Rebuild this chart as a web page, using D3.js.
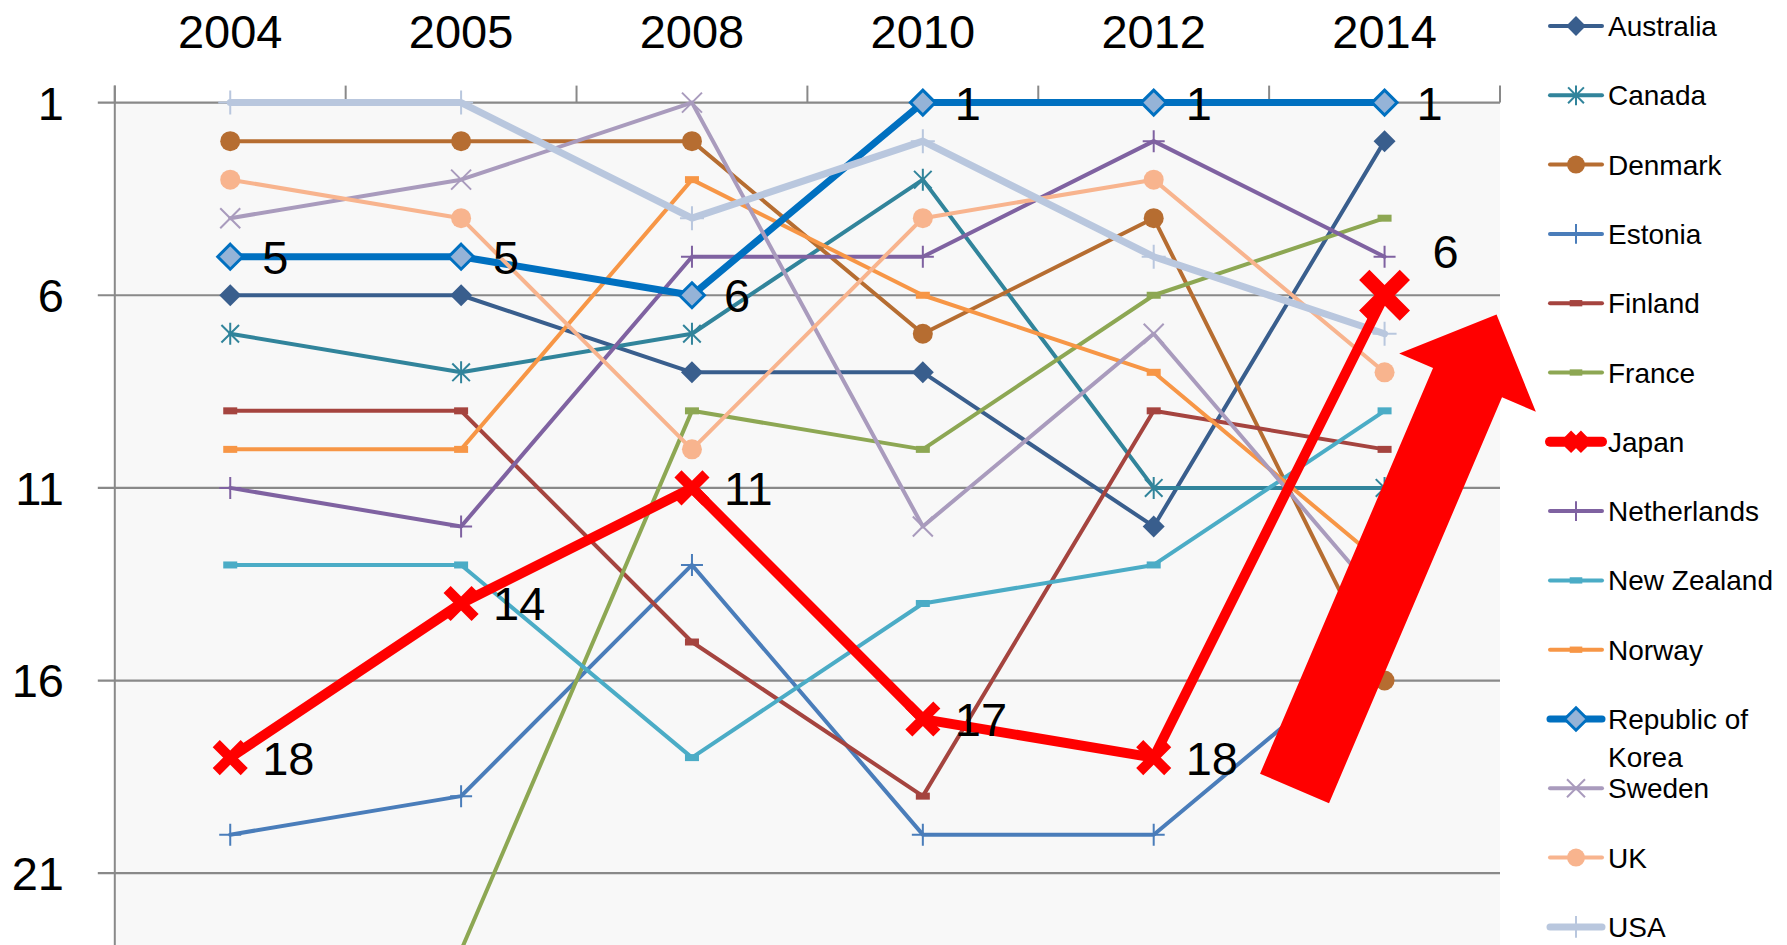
<!DOCTYPE html>
<html>
<head>
<meta charset="utf-8">
<script src="https://cdn.jsdelivr.net/npm/d3@7/dist/d3.min.js"></script>
<style>
  body { margin: 0; background: #fff; }
  svg { display: block; font-family: "Liberation Sans", Arial, sans-serif; }
</style>
</head>
<body>
<script>
// rankings per year (lower = better), null = not ranked
const years = ['2004', '2005', '2008', '2010', '2012', '2014'];
const countries = ['Australia', 'Canada', 'Denmark', 'Estonia', 'Finland', 'France', 'Japan',
  'Netherlands', 'New Zealand', 'Norway', 'Republic of Korea', 'Sweden', 'UK', 'USA'];

const australia   = [6, 6, 8, 8, 12, 2];
const canada      = [7, 8, 7, 3, 11, 11];
const denmark     = [2, 2, 2, 7, 4, 16];
const estonia     = [20, 19, 13, 20, 20, 15];
const finland     = [9, 9, 15, 19, 9, 10];
const france      = [null, 23, 9, 10, 6, 4];
const japan       = [18, 14, 11, 17, 18, 6];
const netherlands = [11, 12, 5, 5, 2, 5];
const newZealand  = [13, 13, 18, 14, 13, 9];
const norway      = [10, 10, 3, 6, 8, 13];
const korea       = [5, 5, 6, 1, 1, 1];
const sweden      = [4, 3, 1, 12, 7, 14];
const uk          = [3, 4, 10, 4, 3, 8];
const usa         = [1, 1, 4, 2, 5, 7];

const rankTicks = [1, 6, 11, 16, 21, 26];

const values = [australia, canada, denmark, estonia, finland, france, japan,
  netherlands, newZealand, norway, korea, sweden, uk, usa];

// look of each series (kept apart from the data)
const styles = {
  'Australia':         { color: '#395E8D', width: 4,  marker: 'diamond', size: 11 },
  'Canada':            { color: '#31849B', width: 4,  marker: 'star',    size: 11 },
  'Denmark':           { color: '#B66D31', width: 4,  marker: 'circle',  size: 10 },
  'Estonia':           { color: '#4A7DBA', width: 4,  marker: 'plus',    size: 11 },
  'Finland':           { color: '#A5443F', width: 4,  marker: 'dash',    size: 7 },
  'France':            { color: '#8DA753', width: 4,  marker: 'dash',    size: 7 },
  'Japan':             { color: '#FF0000', width: 10, marker: 'bigx',    size: 14 },
  'Netherlands':       { color: '#7F62A1', width: 4,  marker: 'plus',    size: 11 },
  'New Zealand':       { color: '#4BACC6', width: 4,  marker: 'dash',    size: 7 },
  'Norway':            { color: '#F79646', width: 4,  marker: 'dash',    size: 7 },
  'Republic of Korea': { color: '#0070C0', width: 7,  marker: 'kdiamond', size: 12.5 },
  'Sweden':            { color: '#A99BBD', width: 4,  marker: 'x',       size: 10 },
  'UK':                { color: '#F8B48E', width: 4,  marker: 'circle',  size: 10 },
  'USA':               { color: '#B9C7DE', width: 7,  marker: 'plus',    size: 12 }
};
const labelled = ['Japan', 'Republic of Korea'];

const W = 1787, H = 945;
const plot = { left: 114.8, right: 1500, top: 102.6 };

const svg = d3.select('body').append('svg')
  .attr('width', W).attr('height', H);

const x = d3.scaleBand().domain(years).range([plot.left, plot.right]);
const xc = d => x(d) + x.bandwidth() / 2;
const y = d3.scaleLinear().domain([1, 26]).range([plot.top, plot.top + 25 * 38.53]);

// plot area
svg.append('rect')
  .attr('x', plot.left).attr('y', plot.top)
  .attr('width', plot.right - plot.left).attr('height', y(26) - plot.top)
  .attr('fill', '#f8f8f8');

// gridlines + left ticks
svg.append('g').selectAll('line').data(rankTicks).join('line')
  .attr('x1', plot.left - 17).attr('x2', plot.right)
  .attr('y1', d => y(d)).attr('y2', d => y(d))
  .attr('stroke', '#898989').attr('stroke-width', 2.2);

// top category tick marks + vertical axis
const bounds = years.map(d => x(d)).concat([plot.right]);
svg.append('g').selectAll('line').data(bounds).join('line')
  .attr('x1', d => d).attr('x2', d => d)
  .attr('y1', plot.top - 17).attr('y2', plot.top)
  .attr('stroke', '#898989').attr('stroke-width', 2);
svg.append('line')
  .attr('x1', plot.left).attr('x2', plot.left)
  .attr('y1', plot.top - 17).attr('y2', H)
  .attr('stroke', '#898989').attr('stroke-width', 2);

// axis labels
svg.append('g').selectAll('text').data(years).join('text')
  .attr('x', d => xc(d)).attr('y', 48)
  .attr('text-anchor', 'middle')
  .attr('font-size', 47)
  .text(d => d);

svg.append('g').selectAll('text').data(rankTicks.filter(d => y(d) < H)).join('text')
  .attr('x', 64).attr('y', d => y(d)).attr('dy', '0.36em')
  .attr('text-anchor', 'end')
  .attr('font-size', 47)
  .text(d => d);

const series = countries.map((c, i) => ({ name: c, vals: values[i], st: styles[c] }));

function markerPath(type, r) {
  switch (type) {
    case 'diamond':
    case 'kdiamond': return `M0,${-r}L${r},0L0,${r}L${-r},0Z`;
    case 'plus': return `M${-r},0H${r}M0,${-r}V${r}`;
    case 'x': return `M${-r},${-r}L${r},${r}M${-r},${r}L${r},${-r}`;
    case 'bigx': return `M${-r},${-r}L${r},${r}M${-r},${r}L${r},${-r}`;
    case 'star': {
      const k = r * 0.8;
      return `M0,${-r}V${r}M${-k},${-k}L${k},${k}M${-k},${k}L${k},${-k}`;
    }
  }
  return '';
}

function drawMarker(g, st, cx, cy, scale) {
  const sc = scale || 1;
  const r = st.size * sc;
  if (st.marker === 'circle') {
    g.append('circle').attr('cx', cx).attr('cy', cy).attr('r', r).attr('fill', st.color);
  } else if (st.marker === 'dash') {
    g.append('rect').attr('x', cx - r).attr('y', cy - r / 2)
      .attr('width', 2 * r).attr('height', r).attr('fill', st.color);
  } else if (st.marker === 'diamond') {
    g.append('path').attr('transform', `translate(${cx},${cy})`)
      .attr('d', markerPath('diamond', r)).attr('fill', st.color);
  } else if (st.marker === 'kdiamond') {
    g.append('path').attr('transform', `translate(${cx},${cy})`)
      .attr('d', markerPath('diamond', r)).attr('fill', '#95B3D7')
      .attr('stroke', st.color).attr('stroke-width', 3);
  } else if (st.marker === 'bigx') {
    g.append('path').attr('transform', `translate(${cx},${cy})`)
      .attr('d', markerPath('bigx', r)).attr('fill', 'none')
      .attr('stroke', st.color).attr('stroke-width', 10 * sc);
  } else {
    g.append('path').attr('transform', `translate(${cx},${cy})`)
      .attr('d', markerPath(st.marker, r)).attr('fill', 'none')
      .attr('stroke', st.color).attr('stroke-width', 2);
  }
}

const line = d3.line()
  .defined(d => d.v != null)
  .x(d => xc(d.year))
  .y(d => y(d.v));

// Japan drawn last so it sits on top
const order = series.filter(s => s.name !== 'Japan').concat(series.filter(s => s.name === 'Japan'));

const lines = svg.append('g');
order.forEach(s => {
  const pts = years.map((yr, i) => ({ year: yr, v: s.vals[i] }));
  const g = lines.append('g');
  g.append('path')
    .attr('d', line(pts))
    .attr('fill', 'none')
    .attr('stroke', s.st.color)
    .attr('stroke-width', s.st.width)
    .attr('stroke-linejoin', 'round')
    .attr('stroke-linecap', 'round');
  pts.forEach((p, i) => {
    if (p.v == null) return;
    // the latest Japan point is drawn bigger in the original
    const big = s.name === 'Japan' && i === years.length - 1;
    drawMarker(g, s.st, xc(p.year), y(p.v), big ? 1.45 : 1);
  });
});

// data labels for Japan and Korea
const labels = svg.append('g');
series.filter(s => labelled.includes(s.name)).forEach(s => {
  s.vals.forEach((v, i) => {
    const moved = s.name === 'Japan' && i === years.length - 1;
    labels.append('text')
      .attr('x', xc(years[i]) + (moved ? 48 : 32))
      .attr('y', y(v) + (moved ? -44 : 0))
      .attr('dy', '0.36em')
      .attr('font-size', 47)
      .text(v);
  });
});

// big red arrow (annotation), placed in data space
const step = x.step();
const tail = [xc('2012') + 0.61 * step, y(18.8)];
const tip = [xc('2014') + 0.485 * step, y(6.5)];
const len = Math.hypot(tip[0] - tail[0], tip[1] - tail[1]);
const ux = (tip[0] - tail[0]) / len, uy = (tip[1] - tail[1]) / len;
const px = -uy, py = ux;
const bodyW = 37.5, headW = 74.3, headL = 74;
const base = [tip[0] - ux * headL, tip[1] - uy * headL];
const arrowPts = [
  [tail[0] - px * bodyW, tail[1] - py * bodyW],
  [base[0] - px * bodyW, base[1] - py * bodyW],
  [base[0] - px * headW, base[1] - py * headW],
  tip,
  [base[0] + px * headW, base[1] + py * headW],
  [base[0] + px * bodyW, base[1] + py * bodyW],
  [tail[0] + px * bodyW, tail[1] + py * bodyW]
];
svg.append('polygon')
  .attr('points', arrowPts.map(p => p.join(',')).join(' '))
  .attr('fill', '#FF0000');

// legend
const legend = svg.append('g');
series.forEach((s, i) => {
  const cy = 26 + i * 69.3;
  const g = legend.append('g');
  g.append('line')
    .attr('x1', 1550).attr('x2', 1602)
    .attr('y1', cy).attr('y2', cy)
    .attr('stroke', s.st.color)
    .attr('stroke-width', s.st.width)
    .attr('stroke-linecap', 'round');
  const st = Object.assign({}, s.st);
  if (st.marker === 'bigx') st.size = 9;
  drawMarker(g, st, 1576, cy, st.marker === 'bigx' ? 0.9 : 0.9);
  const words = s.name === 'Republic of Korea' ? ['Republic of', 'Korea'] : [s.name];
  words.forEach((w, k) => {
    g.append('text')
      .attr('x', 1608).attr('y', cy + k * 38).attr('dy', '0.36em')
      .attr('font-size', 28)
      .text(w);
  });
});
</script>
</body>
</html>
